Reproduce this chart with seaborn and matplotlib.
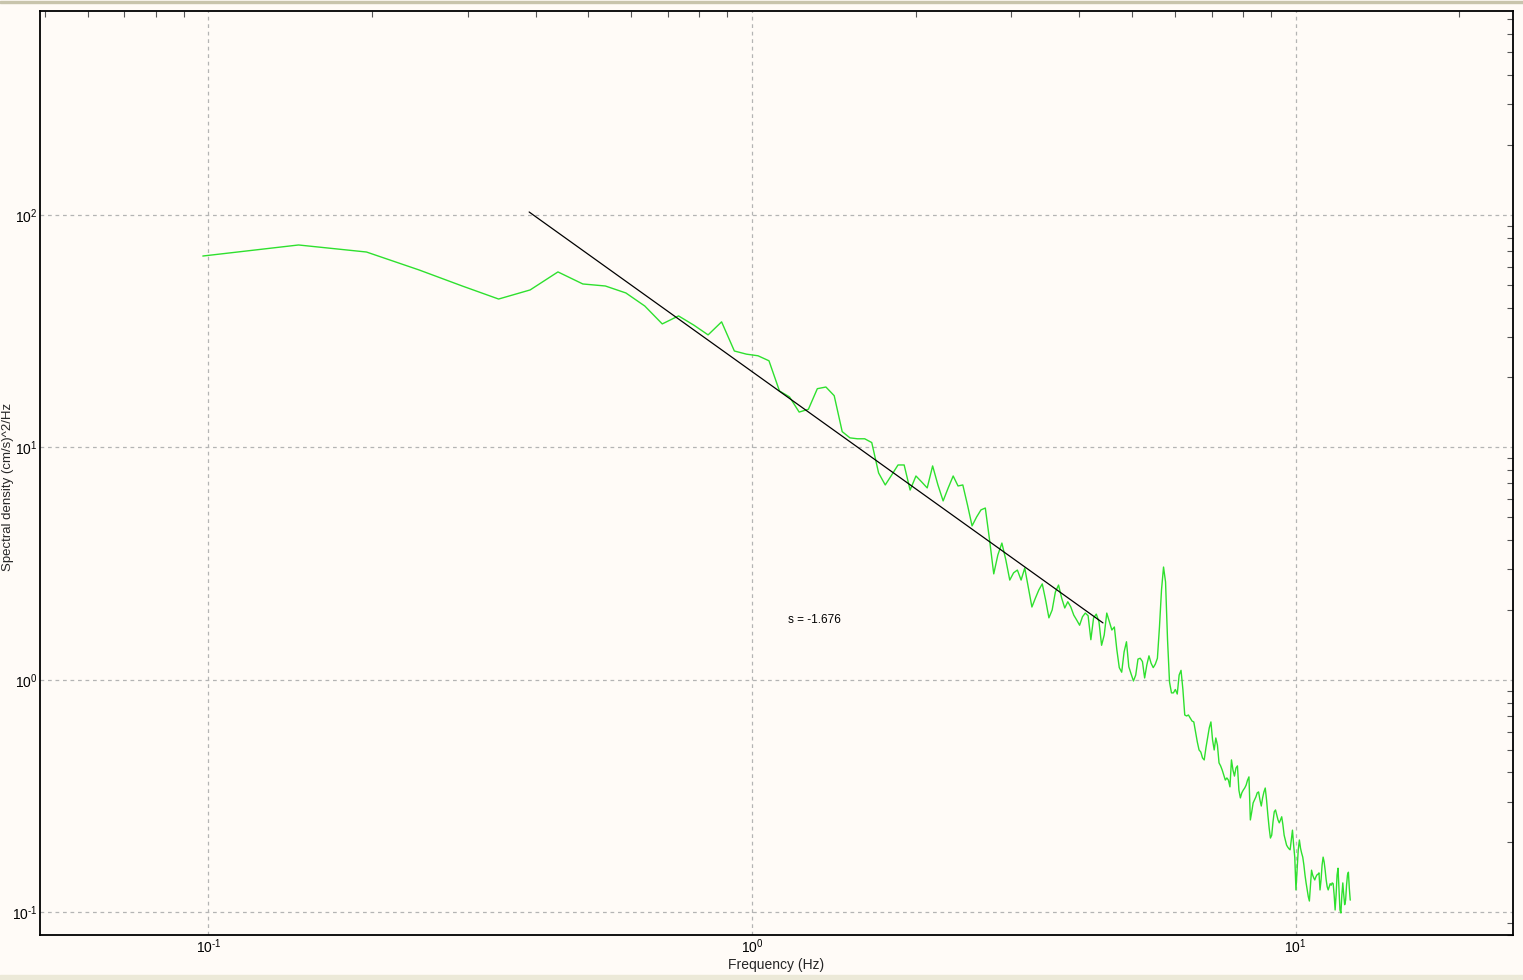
import numpy as np
import pandas as pd
import matplotlib
matplotlib.use("Agg")
import matplotlib.pyplot as plt
import seaborn as sns
from matplotlib.ticker import LogLocator, NullFormatter, FuncFormatter
from matplotlib.patches import Rectangle

# spectral density, one value per FFT bin (bins 2..258)
DF = 0.048828      # bin width in Hz
FIRST_BIN = 2
psd = [
    66.6, 74.3, 69.3, 58.0, 49.5, 43.5, 47.6, 56.9, 50.5, 49.5,
    46.2, 40.6, 34.0, 36.8, 33.6, 30.5, 34.7, 26.0, 25.2, 24.8,
    23.6, 17.5, 16.5, 14.2, 14.6, 17.9, 18.2, 16.7, 11.7, 11.0,
    10.9, 10.9, 10.5, 7.77, 6.90, 7.62, 8.41, 8.41, 6.56, 7.54,
    7.11, 6.70, 8.33, 6.90, 5.89, 6.70, 7.54, 6.83, 6.90, 5.66,
    4.60, 5.02, 5.39, 5.49, 4.00, 2.86, 3.45, 3.88, 3.28, 2.69,
    2.89, 2.97, 2.69, 3.03, 2.49, 2.06, 2.25, 2.44, 2.59, 2.21,
    1.85, 2.00, 2.39, 2.56, 2.25, 2.04, 2.17, 2.06, 1.90, 1.81,
    1.72, 1.87, 1.94, 1.89, 1.49, 1.85, 1.92, 1.78, 1.41, 1.56,
    1.94, 1.78, 1.64, 1.69, 1.35, 1.13, 1.08, 1.32, 1.46, 1.14,
    1.06, 0.99, 1.05, 1.23, 1.24, 1.20, 1.02, 1.16, 1.27, 1.18,
    1.13, 1.17, 1.24, 1.69, 2.44, 3.06, 2.64, 1.49, 0.98, 0.88,
    0.88, 0.91, 0.87, 1.05, 1.10, 0.91, 0.707, 0.700, 0.707, 0.686,
    0.666, 0.660, 0.597, 0.541, 0.500, 0.490, 0.462, 0.453, 0.510, 0.563,
    0.622, 0.660, 0.552, 0.500, 0.563, 0.525, 0.440, 0.427, 0.410, 0.390,
    0.371, 0.379, 0.371, 0.347, 0.453, 0.410, 0.386, 0.418, 0.427, 0.336,
    0.311, 0.327, 0.336, 0.343, 0.353, 0.371, 0.383, 0.250, 0.271, 0.296,
    0.305, 0.314, 0.327, 0.330, 0.305, 0.287, 0.311, 0.330, 0.343, 0.305,
    0.263, 0.231, 0.209, 0.215, 0.245, 0.271, 0.276, 0.263, 0.250, 0.243,
    0.250, 0.258, 0.238, 0.215, 0.205, 0.195, 0.191, 0.188, 0.186, 0.205,
    0.226, 0.195, 0.172, 0.125, 0.152, 0.186, 0.205, 0.189, 0.180, 0.173,
    0.160, 0.145, 0.134, 0.125, 0.117, 0.112, 0.131, 0.152, 0.145, 0.141,
    0.138, 0.142, 0.145, 0.146, 0.148, 0.125, 0.138, 0.160, 0.173, 0.165,
    0.152, 0.138, 0.129, 0.125, 0.129, 0.133, 0.131, 0.134, 0.133, 0.119,
    0.1025, 0.119, 0.145, 0.155, 0.125, 0.1025, 0.0995, 0.119, 0.134, 0.119,
    0.108, 0.113, 0.131, 0.145, 0.149, 0.127, 0.113,
]
freq = DF * np.arange(FIRST_BIN, FIRST_BIN + len(psd))

# fitted power-law segment (end points) and its slope label
fit_freq = [0.389, 4.42]
fit_psd = [103.0, 1.76]
slope_text = "s = -1.676"
slope_pos = (1.165, 1.81)

spec = pd.DataFrame({"freq": freq, "psd": psd})
fit = pd.DataFrame({"freq": fit_freq, "psd": fit_psd})

BG = "#fffbf7"
sns.set_theme(style="white")
plt.rcParams["font.family"] = ["Liberation Sans", "DejaVu Sans"]
plt.rcParams["mathtext.fontset"] = "custom"
plt.rcParams["mathtext.rm"] = "Liberation Sans"
plt.rcParams["mathtext.it"] = "Liberation Sans"


def decade_label(v, pos):
    e = int(round(np.log10(v)))
    return r"$\mathregular{10^{%s}}$" % (r"\text{-}%d" % -e if e < 0 else "%d" % e)


fig = plt.figure(figsize=(15.23, 9.8), dpi=100, facecolor=BG)
ax = fig.add_axes([40 / 1523, 1 - 935 / 980, 1473 / 1523, 924 / 980])
ax.set_facecolor(BG)

sns.lineplot(data=spec, x="freq", y="psd", ax=ax, color="#2ee02e",
             linewidth=1.0, estimator=None, sort=False)
sns.lineplot(data=fit, x="freq", y="psd", ax=ax, color="black",
             linewidth=0.9, estimator=None, sort=False)

ax.set_xscale("log")
ax.set_yscale("log")
ax.set_xlim(0.049, 25.1)
ax.set_ylim(0.080, 754)

ax.text(slope_pos[0], slope_pos[1], slope_text, fontsize=8.5,
        ha="left", va="center", color="black")

ax.xaxis.set_major_locator(LogLocator(base=10, numticks=10))
ax.yaxis.set_major_locator(LogLocator(base=10, numticks=10))
ax.xaxis.set_major_formatter(FuncFormatter(decade_label))
ax.yaxis.set_major_formatter(FuncFormatter(decade_label))
ax.xaxis.set_minor_locator(LogLocator(base=10, subs=np.arange(2, 10), numticks=20))
ax.yaxis.set_minor_locator(LogLocator(base=10, subs=np.arange(2, 10), numticks=20))
ax.xaxis.set_minor_formatter(NullFormatter())
ax.yaxis.set_minor_formatter(NullFormatter())

ax.grid(True, which="major", color="#b4b4b4", linestyle=(0, (3, 3)), linewidth=0.9)
ax.tick_params(which="both", direction="in", top=True, right=True,
               colors="#555555", labelcolor="black", labelsize=10)
ax.tick_params(which="major", length=0, pad=2)
ax.tick_params(which="minor", length=4, width=0.8)

for s in ax.spines.values():
    s.set_color("black")
    s.set_linewidth(1.3)

ax.set_xlabel("Frequency (Hz)", fontsize=10, labelpad=1)
ax.set_ylabel("Spectral density (cm/s)^2/Hz", fontsize=9.5, va="center")
ax.yaxis.set_label_coords(-0.0215, 0.485)

# window frame: thin top rule and bottom status strip
fig.patches.append(Rectangle((0, 1 - 3 / 980), 1, 1.5 / 980, transform=fig.transFigure,
                             color="#c8c4ac", zorder=0))
fig.patches.append(Rectangle((0, 0), 1, 5 / 980, transform=fig.transFigure,
                             color="#ece9d8", zorder=0))

fig.savefig("out.png", dpi=100, facecolor=BG)
